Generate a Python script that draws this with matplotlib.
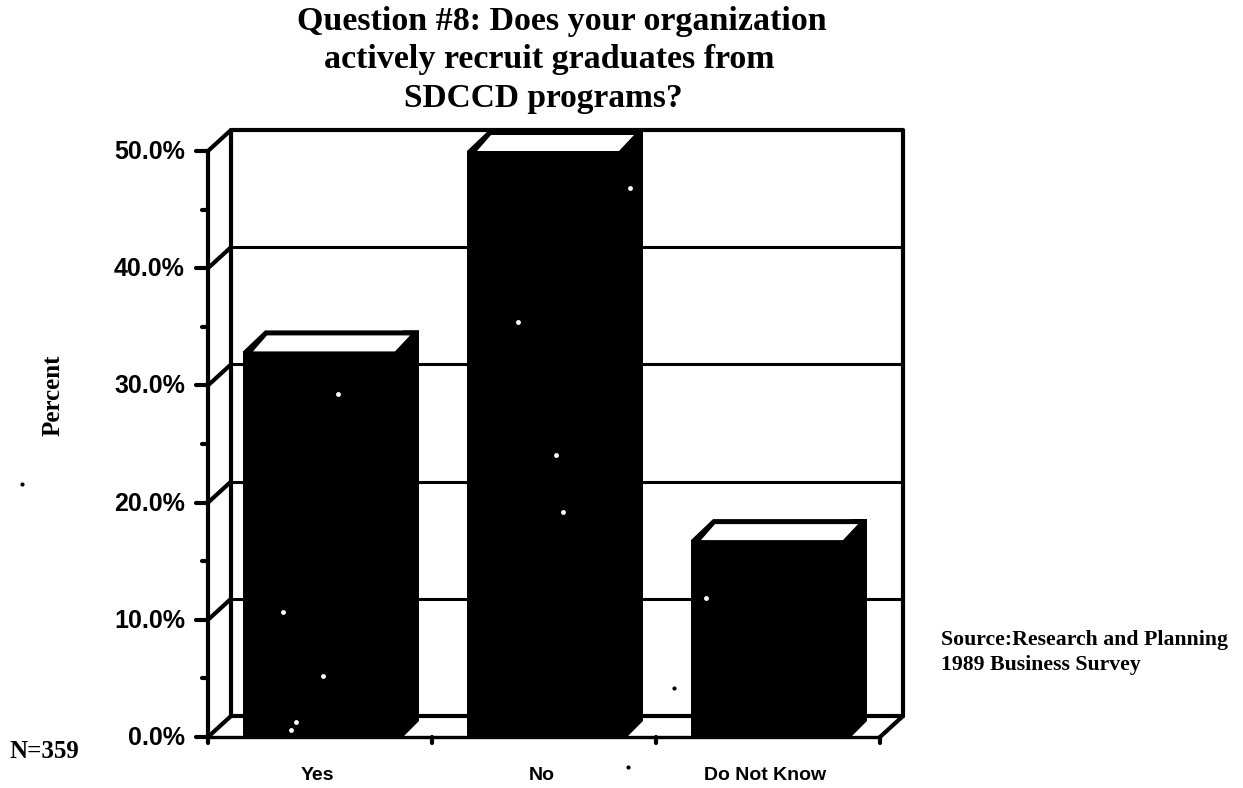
import matplotlib
matplotlib.use('Agg')
import matplotlib.pyplot as plt
from matplotlib.patches import Polygon

# values
categories = ['Yes', 'No', 'Do Not Know']
percents = [32.9, 50.0, 16.8]
yticks = [0, 10, 20, 30, 40, 50]
yticklabels = ['0.0%', '10.0%', '20.0%', '30.0%', '40.0%', '50.0%']
minor_yticks = [5, 15, 25, 35, 45]

# scan specks, in image pixels
white_specks_x = [338, 283, 323, 518, 556, 563, 630, 291, 296, 706]
white_specks_y = [394, 612, 676, 322, 455, 512, 188, 730, 722, 598]
black_specks_x = [22, 674, 628]
black_specks_y = [484, 688, 767]

W, H = 1243, 788
fig = plt.figure(figsize=(W / 100, H / 100), dpi=100)
# front of the box: x 208-880, y 737 (0%) to 151 (50%) in pixels
ax = fig.add_axes([208 / W, (H - 737) / H, 672 / W, 586 / H])
ax.set_xlim(0, 3)
ax.set_ylim(0, 50)
ax.axis('off')

px = 3 / 672     # one pixel in x data units
py = 50 / 586    # one pixel in y data units
dx = 23 * px
dy = 21 * py
barw = 160 * px
lw = 3


def line(xs, ys, w=lw, z=2):
    ax.plot(xs, ys, color='black', lw=w, clip_on=False, zorder=z, solid_capstyle='round')


# back wall and floor
line([dx, dx, 3 + dx, 3 + dx], [dy, 50 + dy, 50 + dy, dy])
line([dx, 3 + dx], [dy, dy])
line([0, 0], [0, 50])
line([0, 3], [0, 0], w=2.4)
line([0, dx], [50, 50 + dy])
line([3, 3 + dx], [0, dy])
for t in yticks[:-1]:
    line([0, dx], [t, t + dy])
    if t > 0:
        line([dx, 3 + dx], [t + dy, t + dy], w=2.2)

# bars
for i, v in enumerate(percents):
    x0 = i + 0.5 - barw / 2 + 3 * px
    x1 = x0 + barw
    side = 16 * px
    ax.bar(x0, v, width=barw, align='edge', color='black', zorder=3)
    ax.add_patch(Polygon([(x1, 0), (x1 + side, side / px * py), (x1 + side, v + dy), (x1, v + dy)],
                         fc='black', ec='none', clip_on=False, zorder=3))
    # thick black outline of the top, then the white face inside it
    ax.add_patch(Polygon([(x0, v), (x0 + 22 * px, v + dy), (x1 + side, v + dy), (x1 + side, v)],
                         fc='black', ec='none', clip_on=False, zorder=3))
    ax.add_patch(Polygon([(x0 + 10 * px, v), (x0 + 24 * px, v + 16 * py),
                          (x1 + 7 * px, v + 16 * py), (x1 - 8 * px, v)],
                         fc='white', ec='none', clip_on=False, zorder=4))

# ticks and labels
sans = ['Liberation Sans', 'DejaVu Sans']
for t, s in zip(yticks, yticklabels):
    line([-12 * px, 0], [t, t], w=3)
    ax.annotate(s, (0, t), xytext=(-23, -1), textcoords='offset pixels', ha='right', va='center',
                fontsize=18, fontweight='bold', family=sans, annotation_clip=False)
for t in minor_yticks:
    line([-6 * px, 0], [t, t], w=3)
for t in range(4):
    line([t, t], [0, -6 * py], w=3)
for i, c in enumerate(categories):
    ax.annotate(c, (i + 0.5, 0), xytext=(-2.5, -43), textcoords='offset pixels', ha='center', va='baseline',
                fontsize=14, fontweight='bold', family=sans, annotation_clip=False)

serif = ['Liberation Serif', 'DejaVu Serif']
fig.text(562 / W, 1 - 30 / H, 'Question #8: Does your organization', ha='center', va='baseline',
         fontsize=24.5, fontweight='bold', family=serif)
fig.text(549 / W, 1 - 68 / H, 'actively recruit graduates from', ha='center', va='baseline',
         fontsize=24.5, fontweight='bold', family=serif)
fig.text(543 / W, 1 - 107 / H, 'SDCCD programs?', ha='center', va='baseline',
         fontsize=24, fontweight='bold', family=serif)
fig.text(53 / W, 1 - 395 / H, 'Percent', rotation=90, ha='center', va='center',
         fontsize=18, fontweight='bold', family=serif)
fig.text(10 / W, 1 - 758 / H, 'N=359', ha='left', va='baseline', fontsize=18, fontweight='bold', family=serif)
fig.text(941 / W, 1 - 645 / H, 'Source:Research and Planning', ha='left', va='baseline',
         fontsize=15.7, fontweight='bold', family=serif)
fig.text(941 / W, 1 - 670 / H, '1989 Business Survey', ha='left', va='baseline',
         fontsize=15.7, fontweight='bold', family=serif)

# scan specks
fig.add_artist(plt.Line2D([x / W for x in white_specks_x], [1 - y / H for y in white_specks_y],
                          ls='none', marker='o', ms=3.5, color='white', mec='none', zorder=10))
fig.add_artist(plt.Line2D([x / W for x in black_specks_x], [1 - y / H for y in black_specks_y],
                          ls='none', marker='o', ms=3, color='black', mec='none', zorder=10))

fig.savefig('out.png', dpi=100)
